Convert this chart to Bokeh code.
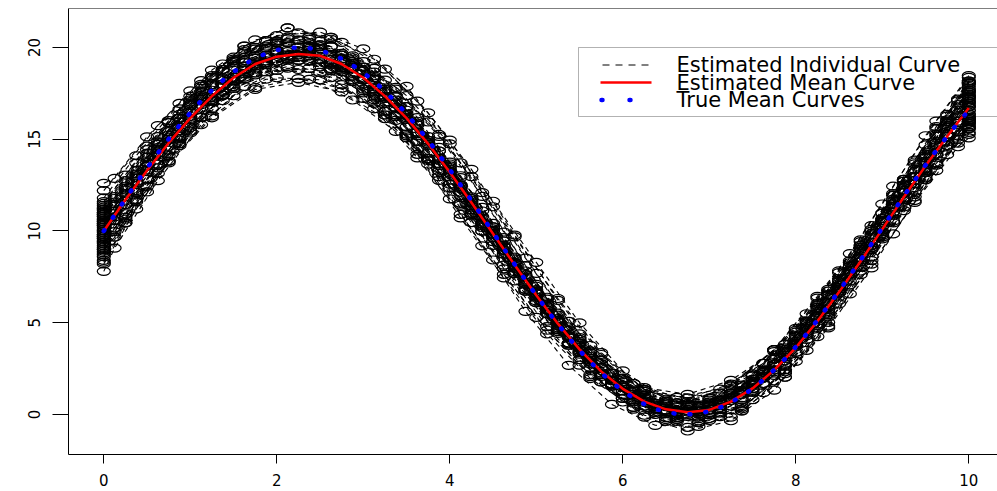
from bokeh.plotting import figure
from bokeh.models import Range1d, FixedTicker, Span, BoxAnnotation, Label, Arrow
from bokeh.embed import file_html
from bokeh.resources import INLINE

# ---------------- data ----------------
x_fine = [0, 0.125, 0.25, 0.375, 0.5, 0.625, 0.75, 0.875, 1.0, 1.125, 1.25, 1.375, 1.5, 1.625,
          1.75, 1.875, 2.0, 2.125, 2.25, 2.375, 2.5, 2.625, 2.75, 2.875, 3.0, 3.125, 3.25, 3.375,
          3.5, 3.625, 3.75, 3.875, 4.0, 4.125, 4.25, 4.375, 4.5, 4.625, 4.75, 4.875, 5.0, 5.125,
          5.25, 5.375, 5.5, 5.625, 5.75, 5.875, 6.0, 6.125, 6.25, 6.375, 6.5, 6.625, 6.75, 6.875,
          7.0, 7.125, 7.25, 7.375, 7.5, 7.625, 7.75, 7.875, 8.0, 8.125, 8.25, 8.375, 8.5, 8.625,
          8.75, 8.875, 9.0, 9.125, 9.25, 9.375, 9.5, 9.625, 9.75, 9.875, 10.0]

true_mean = [10.00, 10.87, 11.74, 12.60, 13.43, 14.24, 15.01, 15.75, 16.44, 17.09, 17.67, 18.20,
             18.67, 19.08, 19.41, 19.67, 19.85, 19.97, 20.00, 19.96, 19.84, 19.65, 19.38, 19.04,
             18.63, 18.16, 17.62, 17.03, 16.38, 15.68, 14.94, 14.16, 13.35, 12.51, 11.66, 10.79,
             9.92, 9.04, 8.18, 7.32, 6.49, 5.69, 4.92, 4.18, 3.49, 2.86, 2.27, 1.75, 1.28, 0.89,
             0.56, 0.31, 0.13, 0.03, 0.00, 0.05, 0.18, 0.38, 0.66, 1.00, 1.41, 1.89, 2.43, 3.03,
             3.69, 4.39, 5.14, 5.92, 6.73, 7.57, 8.42, 9.29, 10.17, 11.04, 11.91, 12.76, 13.59,
             14.39, 15.16, 15.89, 16.57]

# estimated mean curve, at every 0.25 on x
est_x = [0, 0.25, 0.5, 0.75, 1.0, 1.25, 1.5, 1.75, 2.0, 2.25, 2.5, 2.75, 3.0, 3.25, 3.5, 3.75,
         4.0, 4.25, 4.5, 4.75, 5.0, 5.25, 5.5, 5.75, 6.0, 6.25, 6.5, 6.75, 7.0, 7.25, 7.5, 7.75,
         8.0, 8.25, 8.5, 8.75, 9.0, 9.25, 9.5, 9.75, 10.0]
est_mean = [10.0, 11.7, 13.3, 14.8, 16.15, 17.35, 18.35, 19.1, 19.5, 19.65, 19.55, 19.1, 18.35,
            17.35, 16.15, 14.75, 13.2, 11.55, 9.85, 8.15, 6.5, 4.95, 3.55, 2.35, 1.4, 0.7, 0.28,
            0.12, 0.25, 0.7, 1.42, 2.42, 3.65, 5.08, 6.67, 8.35, 10.1, 11.85, 13.55, 15.15, 16.7]

# deviation of each individual curve from the true mean at its observation times
dev_curves = [
    [0.8, 0.6, 0.5, 0.6, 0.4, 0.5, 0.3, 0.4, 0.2, 0.3, 0.1, 0.2, 0.0, 0.1, -0.1, 0.0, 0.2, 0.1, 0.3, 0.4, 0.6],
    [-1.2, -0.9, -0.8, -0.9, -0.7, -0.6, -0.5, -0.4, -0.3, -0.2, -0.1, 0.0, 0.1, 0.2, 0.1, 0.3, 0.2, 0.4, 0.3, 0.2, 0.4, 0.5],
    [1.6, 1.3, 1.0, 0.8, 0.6, 0.4, 0.3, 0.1, 0.0, -0.1, 0.1, 0.2, 0.3, 0.4, 0.5, 0.4, 0.6, 0.7, 0.8, 0.9, 1.1, 1.3],
    [-0.3, -0.5, -0.6, -0.8, -1.0, -1.1, -0.9, -0.8, -0.6, -0.4, -0.2, 0.0, 0.1, 0.3, 0.2, 0.1, -0.1, -0.2, -0.3, -0.2, -0.4, -0.5],
    [0.2, -0.1, -0.3, -0.5, -0.6, -0.5, -0.4, -0.2, 0.1, 0.3, 0.5, 0.6, 0.7, 0.6, 0.5, 0.3, 0.1, -0.1, -0.3, -0.4, -0.6],
    [2.6, 2.0, 1.5, 1.1, 0.8, 0.5, 0.4, 0.2, 0.1, 0.0, 0.1, 0.0, 0.2, 0.3, 0.2, 0.4, 0.5, 0.7, 0.8, 1.0, 1.3, 1.6],
    [-0.8, -1.0, -1.2, -1.4, -1.6, -1.7, -1.6, -1.3, -1.0, -0.7, -0.5, -0.3, -0.2, -0.1, 0.0, -0.2, -0.3, -0.2, -0.4, -0.3, -0.5, -0.6],
    [0.5, 0.4, 0.6, 0.5, 0.3, 0.1, -0.2, -0.3, -0.5, -0.6, -0.5, -0.3, -0.1, 0.1, 0.3, 0.5, 0.6, 0.8, 0.7, 0.9, 1.0, 1.2],
    [-1.6, -1.3, -1.0, -0.8, -0.6, -0.5, -0.3, -0.1, 0.0, 0.2, 0.3, 0.4, 0.5, 0.6, 0.4, 0.3, 0.1, -0.1, -0.4, -0.7, -1.0],
    [1.1, 1.0, 0.9, 0.9, 1.0, 1.1, 0.8, 0.5, 0.2, 0.0, 0.2, 0.4, 0.6, 0.8, 0.9, 1.0, 0.9, 0.7, 0.5, 0.4, 0.3, 0.2],
    [-0.1, -0.3, -0.4, -0.6, -0.8, -0.7, -0.6, -0.3, 0.0, 0.2, 0.4, 0.6, 0.7, 0.8, 0.9, 0.7, 0.6, 0.4, 0.5, 0.6, 0.8, 1.0],
    [0.3, 0.1, -0.1, -0.3, -0.5, -0.7, -0.8, -0.7, -0.5, -0.4, -0.2, -0.3, -0.1, -0.2, -0.4, -0.6, -0.8, -0.9, -1.1, -1.2, -1.3, -1.5],
    [1.3, 1.0, 0.6, 0.3, 0.0, -0.2, -0.4, -0.3, -0.1, 0.1, 0.2, 0.4, 0.3, 0.5, 0.7, 0.8, 1.0, 1.1, 1.3, 1.6, 1.9],
    [-2.2, -1.8, -1.5, -1.3, -1.2, -1.1, -0.9, -0.7, -0.5, -0.4, -0.3, -0.2, -0.1, 0.0, 0.1, 0.0, -0.2, -0.3, -0.5, -0.6, -0.8, -0.9],
    [0.6, 0.3, 0.0, -0.4, -0.8, -1.2, -1.4, -1.3, -1.0, -0.7, -0.4, -0.2, 0.0, 0.2, 0.4, 0.5, 0.4, 0.6, 0.7, 0.8, 0.7, 0.8],
    [-0.6, -0.4, -0.3, -0.2, -0.1, 0.0, 0.1, 0.3, 0.4, 0.5, 0.3, 0.1, -0.1, -0.3, -0.5, -0.7, -0.6, -0.4, -0.2, 0.0, 0.1, 0.3],
    [0.0, -0.2, -0.4, -0.3, -0.1, 0.1, 0.3, 0.4, 0.3, 0.1, -0.1, -0.2, -0.4, -0.5, -0.4, -0.2, 0.0, 0.2, 0.4, 0.5, 0.7],
    [0.9, 0.7, 0.5, 0.3, 0.1, -0.1, -0.3, -0.6, -0.8, -1.0, -1.1, -0.9, -0.7, -0.5, -0.3, -0.1, 0.1, 0.3, 0.5, 0.7, 0.8, 1.0],
    [-1.0, -1.1, -1.2, -1.0, -0.9, -0.7, -0.5, -0.4, -0.2, 0.0, 0.1, 0.3, 0.5, 0.7, 0.9, 1.0, 1.1, 0.9, 0.8, 0.6, 0.5, 0.4],
    [1.8, 1.5, 1.2, 0.9, 0.7, 0.5, 0.2, 0.0, -0.2, -0.3, -0.1, 0.1, 0.3, 0.2, 0.0, -0.2, -0.4, -0.3, -0.1, 0.2, 0.5, 0.8],
    [-0.4, -0.6, -0.8, -0.9, -1.1, -1.2, -1.0, -0.7, -0.4, -0.1, 0.1, 0.0, -0.2, -0.3, -0.5, -0.6, -0.8, -0.7, -0.5, -0.3, -0.2],
    [0.4, 0.2, 0.0, -0.2, -0.3, -0.5, -0.6, -0.5, -0.3, -0.1, 0.1, 0.3, 0.5, 0.4, 0.6, 0.8, 0.9, 1.1, 1.2, 1.4, 1.6, 1.8],
    [-1.4, -1.3, -1.3, -1.5, -1.7, -1.9, -1.8, -1.5, -1.1, -0.8, -0.5, -0.3, -0.1, 0.1, 0.2, 0.1, 0.0, 0.2, 0.1, -0.1, -0.3, -0.5],
    [0.1, 0.3, 0.4, 0.6, 0.7, 0.6, 0.5, 0.3, 0.2, 0.0, -0.2, -0.3, -0.2, 0.0, 0.2, 0.3, 0.2, 0.0, -0.2, -0.4, -0.5, -0.7],
    [2.2, 1.7, 1.2, 0.8, 0.5, 0.3, 0.1, 0.2, 0.4, 0.5, 0.6, 0.7, 0.5, 0.3, 0.1, -0.1, -0.3, -0.5, -0.6, -0.8, -1.0],
    [-0.9, -0.7, -0.6, -0.4, -0.5, -0.6, -0.8, -1.0, -1.2, -1.1, -0.9, -0.6, -0.3, -0.1, 0.1, 0.2, 0.4, 0.3, 0.1, 0.0, -0.2, -0.3],
    [0.7, 0.5, 0.2, 0.0, -0.2, -0.4, -0.5, -0.4, -0.2, 0.1, 0.3, 0.5, 0.7, 0.9, 1.1, 1.2, 1.0, 0.8, 0.6, 0.3, 0.1, 0.0],
    [-0.2, -0.5, -0.8, -1.1, -1.4, -1.7, -1.9, -1.6, -1.2, -0.8, -0.5, -0.3, -0.1, 0.0, 0.1, 0.3, 0.4, 0.6, 0.5, 0.6, 0.7, 0.7],
    [1.0, 0.8, 0.7, 0.5, 0.4, 0.2, 0.1, 0.0, -0.2, -0.3, -0.4, -0.5, -0.6, -0.4, -0.2, 0.0, 0.3, 0.5, 0.8, 1.1, 1.5],
    [-0.5, -0.3, -0.1, 0.0, 0.2, 0.3, 0.4, 0.3, 0.1, -0.1, -0.3, -0.2, 0.0, 0.2, 0.4, 0.3, 0.1, -0.1, -0.3, -0.5, -0.7, -0.8],
    [1.2, 1.0, 0.9, 0.7, 0.5, 0.4, 0.2, 0.0, -0.1, -0.3, -0.2, -0.4, -0.5, -0.6, -0.7, -0.8, -0.6, -0.4, -0.1, 0.2, 0.6, 0.9],
    [-1.8, -1.4, -1.1, -0.8, -0.6, -0.3, -0.1, 0.1, 0.2, 0.3, 0.5, 0.6, 0.5, 0.3, 0.1, -0.1, -0.3, -0.5, -0.7, -0.9, -1.1, -1.3],
    [0.5, 0.3, 0.0, -0.3, -0.6, -0.9, -1.1, -1.2, -1.0, -0.7, -0.4, -0.1, 0.2, 0.4, 0.6, 0.7, 0.8, 0.6, 0.4, 0.2, 0.0],
    [0.0, 0.2, 0.5, 0.8, 1.0, 1.1, 0.9, 0.7, 0.5, 0.4, 0.6, 0.7, 0.9, 0.8, 0.6, 0.4, 0.3, 0.5, 0.7, 0.9, 1.2, 1.4],
    [-0.7, -0.8, -0.6, -0.5, -0.3, -0.2, 0.0, 0.1, 0.2, 0.1, -0.1, -0.3, -0.5, -0.7, -0.9, -1.0, -1.1, -0.9, -0.8, -0.6, -0.5, -0.4],
    [1.4, 1.1, 0.9, 0.6, 0.4, 0.3, 0.1, -0.1, -0.3, -0.5, -0.6, -0.4, -0.2, 0.0, 0.1, 0.3, 0.5, 0.6, 0.8, 1.0, 1.2, 1.5],
    [-1.1, -1.0, -1.1, -1.3, -1.5, -1.6, -1.4, -1.1, -0.8, -0.5, -0.3, -0.1, 0.0, 0.1, 0.3, 0.4, 0.2, 0.0, -0.2, -0.4, -0.6],
    [0.6, 0.5, 0.3, 0.1, -0.1, -0.2, -0.1, 0.1, 0.3, 0.5, 0.4, 0.2, 0.0, -0.2, -0.3, -0.1, 0.1, 0.3, 0.2, 0.0, -0.2, -0.4],
    [-0.3, -0.1, 0.1, 0.2, 0.0, -0.2, -0.4, -0.6, -0.7, -0.5, -0.2, 0.1, 0.3, 0.5, 0.6, 0.5, 0.3, 0.1, -0.1, -0.2, 0.0, 0.2],
    [0.9, 0.7, 0.4, 0.1, -0.2, -0.4, -0.6, -0.7, -0.9, -0.8, -0.6, -0.4, -0.1, 0.2, 0.4, 0.6, 0.8, 0.9, 1.0, 1.1, 1.3, 1.6],
    [1.5, 1.2, 0.9, 0.7, 0.8, 1.0, 1.3, 1.5, 1.6, 1.4, 1.2, 0.9, 0.6, 0.4, 0.5, 0.7, 0.9, 1.0, 0.8, 0.6, 0.5],
    [-1.0, -1.2, -1.1, -0.9, -0.8, -1.0, -1.3, -1.5, -1.7, -1.6, -1.4, -1.1, -0.8, -0.6, -0.4, -0.5, -0.7, -0.9, -1.0, -1.2, -1.1, -0.9],
    [0.3, 0.6, 0.9, 1.1, 1.0, 0.8, 0.9, 1.2, 1.5, 1.7, 1.6, 1.3, 1.0, 0.8, 0.7, 0.9, 1.1, 1.2, 1.0, 0.8, 0.9, 1.1],
    [-0.6, -0.9, -1.0, -0.8, -0.5, -0.3, -0.6, -1.0, -1.4, -1.6, -1.7, -1.5, -1.2, -0.9, -0.7, -0.8, -1.0, -1.1, -0.9, -0.6, -0.4, -0.2],
    [-0.2, 0.1, 0.4, 0.6, 0.5, 0.3, 0.6, 1.0, 1.4, 1.7, 1.8, 1.5, 1.1, 0.7, 0.4, 0.2, 0.1, 0.3, 0.5, 0.4, 0.2],
    [1.2, 0.9, 0.6, 0.2, -0.1, -0.4, -0.8, -1.2, -1.5, -1.8, -1.6, -1.3, -0.9, -0.5, -0.2, 0.1, 0.4, 0.6, 0.5, 0.3, 0.2, 0.4],
    [-1.7, -1.3, -0.9, -0.6, -0.4, -0.2, 0.2, 0.6, 1.0, 1.3, 1.5, 1.4, 1.1, 0.8, 0.5, 0.2, -0.1, -0.3, -0.6, -0.8, -1.0, -1.2],
    [0.8, 0.5, 0.2, 0.0, -0.1, 0.1, 0.4, 0.8, 1.1, 1.3, 1.2, 0.9, 0.5, 0.1, -0.2, -0.5, -0.7, -0.6, -0.3, 0.0, 0.4, 0.7],
    [0.4, 0.1, -0.2, -0.4, -0.2, -0.5, -0.9, -1.3, -1.6, -1.5, -1.2, -0.8, -0.4, 0.0, 0.3, 0.5, 0.6, 0.4, 0.1, -0.2, -0.4],
    [-0.4, -0.1, 0.2, 0.5, 0.7, 0.6, 0.9, 1.2, 1.4, 1.2, 0.9, 0.6, 0.3, 0.1, -0.1, -0.3, -0.2, 0.0, 0.3, 0.6, 0.9, 1.1],
    [1.0, 0.7, 0.4, 0.3, 0.1, -0.3, -0.7, -1.1, -1.3, -1.2, -0.9, -0.5, -0.1, 0.3, 0.6, 0.9, 1.1, 1.3, 1.1, 0.9, 1.2, 1.5],
    [-1.3, -1.0, -0.7, -0.6, -0.4, -0.1, 0.3, 0.7, 1.0, 1.1, 0.8, 0.4, 0.1, -0.2, -0.5, -0.8, -1.0, -1.2, -1.3, -1.1, -0.9, -0.7],
]

x_ticks = [0, 2, 4, 6, 8, 10]
y_ticks = [0, 5, 10, 15, 20]
legend_labels = ["Estimated Individual Curve", "Estimated Mean Curve", "True Mean Curves"]

# observation-time index sets (four staggered schedules, all observed at 0 and 10)
n = len(x_fine)
schedules = {0: list(range(0, n, 4))}
for k in (1, 2, 3):
    schedules[k] = [0] + list(range(k, n, 4)) + [n - 1]

curve_xs, curve_ys = [], []
for c, dev in enumerate(dev_curves):
    ix = schedules[c % 4]
    pairs = list(zip(ix, dev))
    curve_xs.append([x_fine[j] for j, _ in pairs])
    curve_ys.append([true_mean[j] + d for j, d in pairs])
obs_x = [v for row in curve_xs for v in row]
obs_y = [v for row in curve_ys for v in row]

# ---------------- figure ----------------
p = figure(width=997, height=491, output_backend="svg", toolbar_location=None,
           x_range=Range1d(-0.408, 10.332), y_range=Range1d(-2.18, 22.125),
           min_border_left=68, min_border_right=0, min_border_top=8, min_border_bottom=37)
p.grid.visible = False
p.outline_line_color = None
p.background_fill_color = "white"
p.border_fill_color = "white"

for ax, ticks, tout in ((p.xaxis, x_ticks, 9), (p.yaxis, y_ticks, 16)):
    ax.ticker = FixedTicker(ticks=ticks)
    ax.major_tick_out = tout
    ax.major_tick_in = 0
    ax.minor_tick_out = 0
    ax.minor_tick_in = 0
    ax.axis_line_color = "black"
    ax.axis_line_width = 1
    ax.major_tick_line_color = "black"
    ax.major_label_text_font = "DejaVu Sans"
    ax.major_label_text_font_size = "15px"
    ax.major_label_text_color = "black"
p.xaxis.major_label_standoff = 10
p.yaxis.major_label_standoff = 12
p.yaxis.major_label_orientation = "vertical"

p.add_layout(Span(location=22.125, dimension="width", line_color="black", line_width=1.2))

p.multi_line(curve_xs, curve_ys, line_color="black", line_width=1.1, line_dash="5 4")
p.ellipse(x=obs_x, y=obs_y, width=13, height=8, width_units="screen", height_units="screen",
          fill_color=None, line_color="black", line_width=1.2)
p.line(est_x, est_mean, line_color="red", line_width=2.5)
p.line(x_fine, true_mean, line_color="blue", line_width=4.5, line_dash="1 15", line_cap="round")

# ---------------- legend (drawn in screen units, frame-relative) ----------------
p.add_layout(BoxAnnotation(left=510, right=940, bottom=338, top=407,
                           left_units="screen", right_units="screen",
                           bottom_units="screen", top_units="screen",
                           fill_alpha=0, line_color="black", line_width=1))
rows_y = [389.5, 372, 354.5]
p.add_layout(Arrow(end=None, x_start=534, y_start=rows_y[0], x_end=581, y_end=rows_y[0],
                   start_units="screen", end_units="screen",
                   line_color="black", line_width=1, line_dash="7 6"))
p.add_layout(Arrow(end=None, x_start=532, y_start=rows_y[1], x_end=583, y_end=rows_y[1],
                   start_units="screen", end_units="screen",
                   line_color="red", line_width=2.5))
p.add_layout(Arrow(end=None, x_start=533, y_start=rows_y[2], x_end=563, y_end=rows_y[2],
                   start_units="screen", end_units="screen",
                   line_color="blue", line_width=4.5, line_dash="1 27", line_cap="round"))
for lab, yy in zip(legend_labels, rows_y):
    p.add_layout(Label(x=608, y=yy, x_units="screen", y_units="screen", text=lab,
                       text_font="DejaVu Sans", text_font_size="21px", text_color="black",
                       text_baseline="middle", text_align="left"))

open("out.html", "w").write(file_html(p, INLINE))
